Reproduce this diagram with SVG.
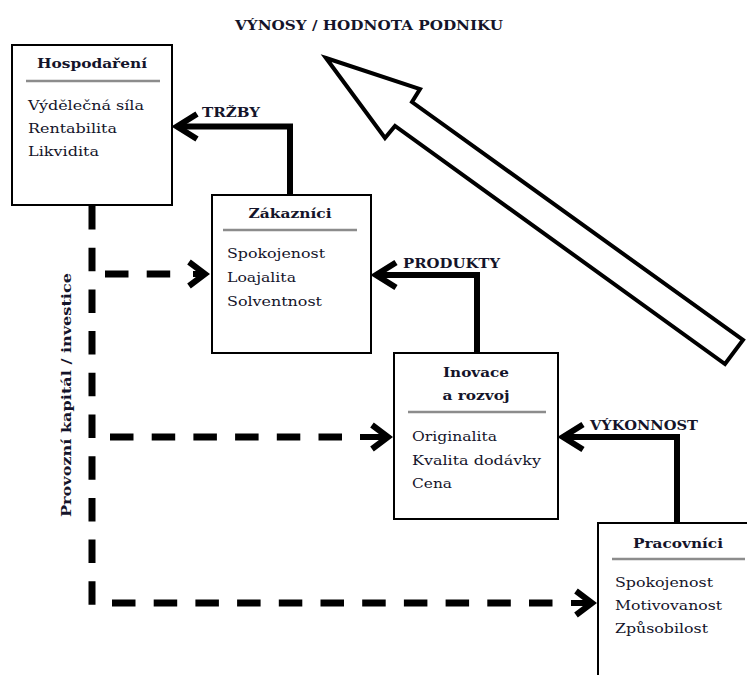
<svg xmlns="http://www.w3.org/2000/svg" width="747" height="675" viewBox="0 0 747 675">
<style>
text{font-family:"DejaVu Serif","Liberation Serif",serif;fill:#14142a;font-size:13.5px}
.t{font-weight:bold;text-anchor:middle}
.b{font-weight:bold}
.box{fill:#fff;stroke:#000;stroke-width:2}
.sep{stroke:#8c8c8c;stroke-width:2.5}
.con{fill:none;stroke:#000;stroke-width:6;stroke-linejoin:miter}
.dash{fill:none;stroke:#000;stroke-width:7;stroke-dasharray:23.5 18.2}
.head{fill:none;stroke:#000;stroke-width:6;stroke-linejoin:miter;stroke-miterlimit:10}
</style>
<rect width="747" height="675" fill="#fff"/>
<text id="title" class="b" x="235" y="30" textLength="268" lengthAdjust="spacingAndGlyphs">VÝNOSY / HODNOTA PODNIKU</text>
<g id="big-arrow">
<polygon points="326,58 420,89 412,102 743,340 725,364 395,126 385,138" fill="#fff" stroke="#000" stroke-width="4" stroke-linejoin="miter"/>
</g>
<g id="connectors">
<path class="con" d="M290,196 V126.5 H178"/>
<path class="head" d="M197,114 L177,126.5 L197,139"/>
<text class="b" x="202" y="117" textLength="58" lengthAdjust="spacingAndGlyphs">TRŽBY</text>
<path class="con" d="M477,354 V275 H377"/>
<path class="head" d="M396,262.5 L376,275 L396,287.5"/>
<text class="b" x="403" y="268" textLength="97" lengthAdjust="spacingAndGlyphs">PRODUKTY</text>
<path class="con" d="M677,524 V437 H564"/>
<path class="head" d="M583,424.5 L563,437 L583,449.5"/>
<text class="b" x="590" y="430" textLength="108" lengthAdjust="spacingAndGlyphs">VÝKONNOST</text>
<path class="dash" d="M92,206 V606"/>
<path class="dash" d="M105,274 H172"/>
<path class="head" d="M189,262 L205,274 L189,286 M193,274 H205"/>
<path class="dash" d="M110,437 H357"/>
<path class="con" d="M360,437 H388"/>
<path class="head" d="M372,425 L388,437 L372,449"/>
<path class="dash" d="M112,603 H555"/>
<path class="con" d="M571,603 H592"/>
<path class="head" d="M576,591 L592,603 L576,615"/>
<text class="b" transform="translate(71,395) rotate(-90)" text-anchor="middle" textLength="244" lengthAdjust="spacingAndGlyphs">Provozní kapitál / investice</text>
</g>
<g id="hospodareni">
<rect class="box" x="12" y="45" width="160" height="160"/>
<text class="t" x="92" y="68" textLength="110" lengthAdjust="spacingAndGlyphs">Hospodaření</text>
<line class="sep" x1="26" y1="81" x2="160" y2="81"/>
<text x="28" y="110" textLength="116" lengthAdjust="spacingAndGlyphs">Výdělečná síla</text>
<text x="28" y="133" textLength="89" lengthAdjust="spacingAndGlyphs">Rentabilita</text>
<text x="28" y="156" textLength="71" lengthAdjust="spacingAndGlyphs">Likvidita</text>
</g>
<g id="zakaznici">
<rect class="box" x="212" y="195" width="159" height="158"/>
<text class="t" x="290" y="218" textLength="83" lengthAdjust="spacingAndGlyphs">Zákazníci</text>
<line class="sep" x1="223" y1="230" x2="357" y2="230"/>
<text x="227" y="258" textLength="98" lengthAdjust="spacingAndGlyphs">Spokojenost</text>
<text x="227" y="282" textLength="69" lengthAdjust="spacingAndGlyphs">Loajalita</text>
<text x="227" y="306" textLength="95" lengthAdjust="spacingAndGlyphs">Solventnost</text>
</g>
<g id="inovace">
<rect class="box" x="394" y="353" width="164" height="166"/>
<text class="t" x="476" y="377" textLength="66" lengthAdjust="spacingAndGlyphs">Inovace</text>
<text class="t" x="476" y="400" textLength="67" lengthAdjust="spacingAndGlyphs">a rozvoj</text>
<line class="sep" x1="408" y1="412" x2="546" y2="412"/>
<text x="412" y="441" textLength="85" lengthAdjust="spacingAndGlyphs">Originalita</text>
<text x="412" y="465" textLength="129" lengthAdjust="spacingAndGlyphs">Kvalita dodávky</text>
<text x="412" y="488" textLength="40" lengthAdjust="spacingAndGlyphs">Cena</text>
</g>
<g id="pracovnici">
<rect class="box" x="598" y="523" width="170" height="170"/>
<text class="t" x="678" y="548" textLength="90" lengthAdjust="spacingAndGlyphs">Pracovníci</text>
<line class="sep" x1="612" y1="559" x2="745" y2="559"/>
<text x="615" y="587" textLength="98" lengthAdjust="spacingAndGlyphs">Spokojenost</text>
<text x="615" y="610" textLength="107" lengthAdjust="spacingAndGlyphs">Motivovanost</text>
<text x="615" y="633" textLength="93" lengthAdjust="spacingAndGlyphs">Způsobilost</text>
</g>
</svg>
